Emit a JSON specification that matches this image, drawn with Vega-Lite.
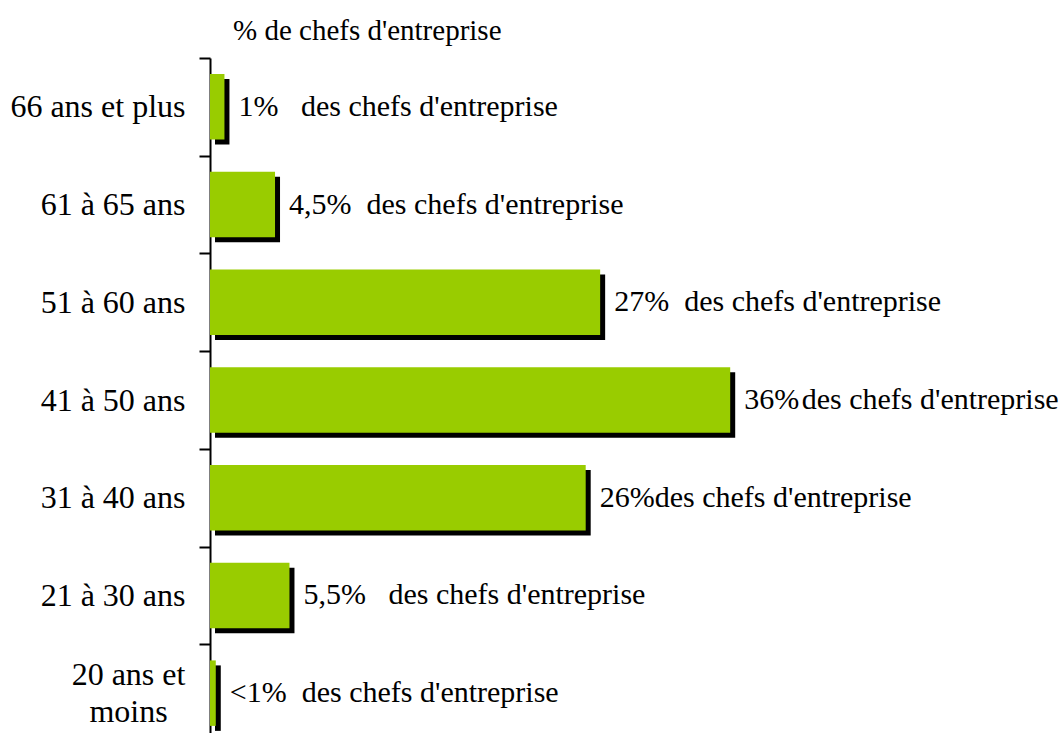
{
  "$schema": "https://vega.github.io/schema/vega-lite/v6.json",
  "width": 578,
  "height": 675,
  "autosize": {"type": "none"},
  "padding": {"left": 210, "top": 58, "right": 276, "bottom": 0},
  "background": "white",
  "title": {
    "text": "% de chefs d'entreprise",
    "anchor": "start",
    "frame": "group",
    "dx": 23,
    "offset": -4,
    "font": "Liberation Serif",
    "fontSize": 29,
    "fontWeight": "normal",
    "color": "black"
  },
  "data": {
    "values": [
      {"age": "66 ans et plus", "pct": 1, "label": "1%\u00a0\u00a0\u00a0des chefs d'entreprise"},
      {"age": "61 à 65 ans", "pct": 4.5, "label": "4,5%\u00a0\u00a0des chefs d'entreprise"},
      {"age": "51 à 60 ans", "pct": 27, "label": "27%\u00a0\u00a0des chefs d'entreprise"},
      {"age": "41 à 50 ans", "pct": 36, "label": "36%\u200ades chefs d'entreprise"},
      {"age": "31 à 40 ans", "pct": 26, "label": "26%des chefs d'entreprise"},
      {"age": "21 à 30 ans", "pct": 5.5, "label": "5,5%\u00a0\u00a0\u00a0des chefs d'entreprise"},
      {"age": "20 ans et moins", "pct": 0.4, "label": "<1%\u00a0\u00a0des chefs d'entreprise"}
    ]
  },
  "encoding": {
    "y": {
      "field": "age",
      "type": "nominal",
      "sort": null,
      "scale": {"range": [0, 684], "paddingInner": 0, "paddingOuter": 0},
      "axis": {
        "title": null,
        "domainColor": "black",
        "domainWidth": 2,
        "ticks": true,
        "tickColor": "black",
        "tickWidth": 2,
        "tickSize": 11,
        "tickBand": "extent",
        "labelFont": "Liberation Serif",
        "labelFontSize": 32,
        "labelColor": "black",
        "labelLimit": 0,
        "labelOverlap": false,
        "labelLineHeight": 37,
        "labelPadding": {"condition": {"test": "datum.value === '20 ans et moins'", "value": 71}, "value": 14},
        "labelAlign": {"condition": {"test": "datum.value === '20 ans et moins'", "value": "center"}, "value": "right"},
        "labelOffset": {"condition": {"test": "datum.value === '20 ans et moins'", "value": -19}, "value": 0},
        "labelExpr": "datum.value === '20 ans et moins' ? ['20 ans et', 'moins'] : datum.label"
      }
    },
    "x": {
      "field": "pct",
      "type": "quantitative",
      "scale": {"domain": [0, 40], "nice": false},
      "axis": null
    }
  },
  "layer": [
    {"mark": {"type": "bar", "color": "#000000", "xOffset": 5, "yOffset": 5, "height": {"band": 0.67}}},
    {"mark": {"type": "bar", "color": "#99CC00", "height": {"band": 0.67}}},
    {
      "mark": {"type": "text", "align": "left", "baseline": "middle", "dx": 14, "font": "Liberation Serif", "fontSize": 30, "color": "black"},
      "encoding": {"text": {"field": "label"}}
    }
  ],
  "config": {"view": {"stroke": null}}
}
